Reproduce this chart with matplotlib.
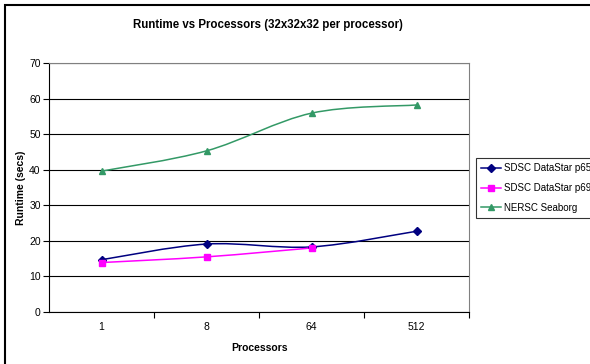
import matplotlib
matplotlib.use("Agg")
import matplotlib.pyplot as plt
import numpy as np
from matplotlib.path import Path
from matplotlib.patches import PathPatch, Rectangle
from matplotlib.lines import Line2D

plt.rcParams['font.family'] = ['Liberation Sans', 'DejaVu Sans']

processors = ['1', '8', '64', '512']
p655 = [14.7, 19.1, 18.3, 22.7]
p690 = [13.9, 15.5, 18.0]
seaborg = [39.6, 45.3, 55.9, 58.2]

series = [
    ('SDSC DataStar p655', p655, '#000080', 'D', 4),
    ('SDSC DataStar p690', p690, '#FF00FF', 's', 4),
    ('NERSC Seaborg', seaborg, '#339966', '^', 5),
]


def smooth_path(xs, ys):
    # Catmull-Rom style bezier through the points, like spreadsheet "smoothed line"
    pts = np.column_stack([xs, ys]).astype(float)
    verts = [pts[0]]
    codes = [Path.MOVETO]
    n = len(pts)
    for i in range(n - 1):
        p0 = pts[i - 1] if i > 0 else pts[i]
        p1 = pts[i]
        p2 = pts[i + 1]
        p3 = pts[i + 2] if i + 2 < n else pts[i + 1]
        c1 = p1 + (p2 - p0) / 6.0
        c2 = p2 - (p3 - p1) / 6.0
        verts += [c1, c2, p2]
        codes += [Path.CURVE4] * 3
    return Path(verts, codes)


fig = plt.figure(figsize=(5.9, 3.64), dpi=100)
ax = fig.add_axes([49 / 590, 1 - 312 / 364, 420 / 590, 249 / 364])

handles = []
for name, vals, color, marker, ms in series:
    xs = np.arange(len(vals))
    patch = PathPatch(smooth_path(xs, vals), facecolor='none', edgecolor=color, lw=1.1, zorder=3)
    ax.add_patch(patch)
    ax.plot(xs, vals, linestyle='none', marker=marker, color=color, markersize=ms, zorder=4)
    handles.append(Line2D([], [], color=color, lw=1.1, marker=marker, markersize=ms))

ax.set_xlim(-0.5, len(processors) - 0.5)
ax.set_ylim(0, 70)
ax.set_yticks(range(0, 71, 10))
ax.yaxis.grid(True, color='black', lw=0.8)
ax.set_axisbelow(True)

ax.set_xticks(np.arange(len(processors)) + 0.5)
ax.set_xticklabels([])
ax.set_xticks(np.arange(len(processors)), minor=True)
ax.set_xticklabels(processors, minor=True)
ax.tick_params(axis='x', which='major', length=4, direction='out', width=0.8)
ax.tick_params(axis='x', which='minor', length=0, pad=7, labelsize=7.5)
ax.tick_params(axis='y', length=4, direction='out', width=0.8, labelsize=7.5, pad=2)

for side in ['top', 'right']:
    ax.spines[side].set_color('#808080')
for side in ['left', 'bottom']:
    ax.spines[side].set_color('black')

ax.set_xlabel('Processors', fontsize=7.5, fontweight='bold', labelpad=8)
ax.set_ylabel('Runtime (secs)', fontsize=7.5, fontweight='bold', labelpad=2)
fig.text(268 / 590, 1 - 25 / 364, 'Runtime vs Processors (32x32x32 per processor)',
         ha='center', va='center', fontsize=8.3, fontweight='bold')

leg = fig.legend(handles, [s[0] for s in series], loc='upper left',
                 bbox_to_anchor=(476 / 590, 1 - 158 / 364), fontsize=7.0,
                 frameon=True, fancybox=False, edgecolor='black', handlelength=2.0,
                 handletextpad=0.3, borderpad=0.55, labelspacing=1.0, borderaxespad=0)
leg.get_frame().set_linewidth(0.8)

fig.patches.append(Rectangle((5 / 590, -0.05), 1.1, 1 - 5 / 364 + 0.05, transform=fig.transFigure,
                             fill=False, edgecolor='black', lw=1.5))

fig.savefig('out.png', dpi=100)
